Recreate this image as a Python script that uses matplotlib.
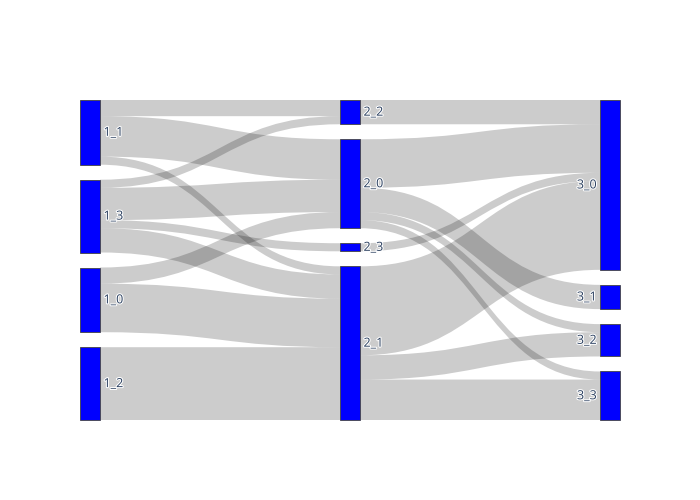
import matplotlib.pyplot as plt
from matplotlib.path import Path
from matplotlib.patches import PathPatch, Rectangle
import matplotlib.patheffects as pe

# noeuds par colonne, de haut en bas
col1 = ['1_1', '1_3', '1_0', '1_2']
col2 = ['2_2', '2_0', '2_3', '2_1']
col3 = ['3_0', '3_1', '3_2', '3_3']

# liens source -> cible
sources = ['1_1', '1_1', '1_1', '1_3', '1_3', '1_3', '1_3', '1_0', '1_0', '1_2',
           '2_2', '2_0', '2_0', '2_0', '2_0', '2_3', '2_1', '2_1', '2_1']
targets = ['2_2', '2_0', '2_1', '2_2', '2_0', '2_3', '2_1', '2_0', '2_1', '2_1',
           '3_0', '3_0', '3_1', '3_2', '3_3', '3_0', '3_0', '3_2', '3_3']
values = [2, 5, 1, 1, 4, 1, 3, 2, 6, 9,
          3, 6, 3, 1, 1, 1, 11, 3, 5]

# mise en page (pixels)
W, H = 700, 500
left, right, top, bottom = 80, 620, 100, 420
node_w = 20
pad = 15

cols = [col1, col2, col3]
col_x = {}
for i, c in enumerate(cols):
    for n in c:
        col_x[n] = left + i * (right - left - node_w) / (len(cols) - 1)

# valeur des noeuds
node_in = {}
node_out = {}
for s, t, v in zip(sources, targets, values):
    node_out[s] = node_out.get(s, 0) + v
    node_in[t] = node_in.get(t, 0) + v
node_val = {n: max(node_in.get(n, 0), node_out.get(n, 0)) for c in cols for n in c}

k = min((bottom - top - pad * (len(c) - 1)) / sum(node_val[n] for n in c) for c in cols)

node_y = {}
for c in cols:
    y = top
    for n in c:
        node_y[n] = y
        y += node_val[n] * k + pad

fig = plt.figure(figsize=(7, 5), dpi=100)
ax = fig.add_axes([0, 0, 1, 1])
ax.set_xlim(0, W)
ax.set_ylim(H, 0)
ax.axis('off')

# ordre des liens dans chaque noeud
idx = list(range(len(values)))
out_off = {}
for n in node_val:
    y = node_y[n]
    for i in sorted([i for i in idx if sources[i] == n], key=lambda i: node_y[targets[i]]):
        out_off[i] = y
        y += values[i] * k
in_off = {}
for n in node_val:
    y = node_y[n]
    for i in sorted([i for i in idx if targets[i] == n], key=lambda i: node_y[sources[i]]):
        in_off[i] = y
        y += values[i] * k

for i in idx:
    x0 = col_x[sources[i]] + node_w
    x1 = col_x[targets[i]]
    xm = (x0 + x1) / 2
    w = values[i] * k
    y0 = out_off[i]
    y1 = in_off[i]
    verts = [(x0, y0), (xm, y0), (xm, y1), (x1, y1),
             (x1, y1 + w), (xm, y1 + w), (xm, y0 + w), (x0, y0 + w), (x0, y0)]
    codes = [Path.MOVETO, Path.CURVE4, Path.CURVE4, Path.CURVE4,
             Path.LINETO, Path.CURVE4, Path.CURVE4, Path.CURVE4, Path.CLOSEPOLY]
    ax.add_patch(PathPatch(Path(verts, codes), facecolor=(0, 0, 0, 0.2), edgecolor='none', lw=0))

for ci, c in enumerate(cols):
    for n in c:
        h = node_val[n] * k
        ax.add_patch(Rectangle((col_x[n], node_y[n]), node_w, h, facecolor='blue',
                               edgecolor='#444444', lw=0.6))
        if ci < len(cols) - 1:
            tx, ha = col_x[n] + node_w + 3.5, 'left'
        else:
            tx, ha = col_x[n] - 3.5, 'right'
        ax.text(tx, node_y[n] + h / 2, n, ha=ha, va='center', fontsize=9,
                family='Open Sans', color='#2a3f5f',
                path_effects=[pe.withStroke(linewidth=1.5, foreground='white')])

fig.savefig('out.png', dpi=100, facecolor='white')
